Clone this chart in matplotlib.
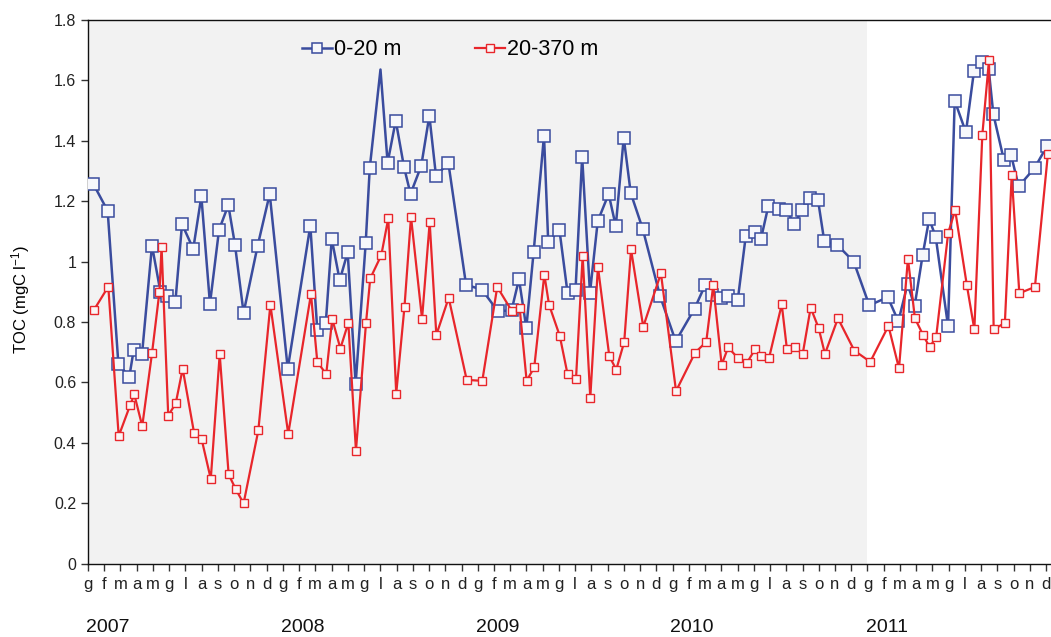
import matplotlib
matplotlib.use("Agg")
import matplotlib.pyplot as plt

plt.rcParams['font.family'] = ['Liberation Sans', 'DejaVu Sans']
plt.rcParams['mathtext.fontset'] = 'custom'
plt.rcParams['mathtext.rm'] = 'Liberation Sans'
plt.rcParams['mathtext.it'] = 'Liberation Sans'

# Sampling dates, in months since January 2007
t_surface = [0.33, 1.21, 1.87, 2.54, 2.81, 3.33, 3.94, 4.46, 4.88, 5.38, 5.79, 6.48,
             6.98, 7.51, 8.07, 8.64, 9.05, 9.58, 10.45, 11.19, 12.30, 13.69, 14.12,
             14.64, 15.01, 15.50, 15.99, 16.48, 17.10, 17.35, 18.01, 18.45, 18.95,
             19.46, 19.86, 20.52, 21.02, 21.43, 22.19, 23.28, 24.26, 25.23, 26.08,
             26.54, 26.99, 27.44, 28.08, 28.34, 29.03, 29.53, 30.02, 30.43, 30.91,
             31.39, 32.06, 32.50, 32.99, 33.42, 34.16, 35.23, 36.19, 37.35, 38.01,
             38.42, 38.96, 39.40, 40.01, 40.50, 41.05, 41.44, 41.89, 42.57, 43.00,
             43.49, 43.97, 44.46, 44.95, 45.34, 46.12, 47.15, 48.11, 49.25, 49.90,
             50.47, 50.90, 51.40, 51.80, 52.20, 52.96, 53.37, 54.06, 54.56, 55.03,
             55.46, 55.75, 56.40, 56.84, 57.31, 58.29, 59.07]
toc_surface = [1.257, 1.168, 0.662, 0.617, 0.706, 0.695, 1.053, 0.900, 0.885, 0.866,
               1.124, 1.042, 1.216, 0.860, 1.105, 1.187, 1.056, 0.830, 1.053, 1.224,
               0.645, 1.119, 0.773, 0.795, 1.075, 0.938, 1.031, 0.595, 1.061, 1.310,
               1.636, 1.327, 1.467, 1.313, 1.224, 1.317, 1.483, 1.283, 1.327, 0.923,
               0.907, 0.836, 0.838, 0.942, 0.780, 1.031, 1.417, 1.064, 1.105, 0.896,
               0.905, 1.347, 0.896, 1.134, 1.224, 1.117, 1.410, 1.227, 1.108, 0.885,
               0.736, 0.844, 0.923, 0.888, 0.880, 0.885, 0.872, 1.083, 1.098, 1.075,
               1.183, 1.175, 1.171, 1.124, 1.171, 1.209, 1.205, 1.067, 1.056, 1.000,
               0.855, 0.882, 0.802, 0.926, 0.852, 1.023, 1.141, 1.082, 0.786, 1.533,
               1.428, 1.632, 1.660, 1.639, 1.488, 1.336, 1.353, 1.249, 1.310, 1.384]

t_deep = [0.37, 1.25, 1.89, 2.60, 2.85, 3.34, 3.94, 4.40, 4.53, 4.94, 5.40, 5.83,
          6.53, 7.00, 7.56, 8.11, 8.66, 9.09, 9.58, 10.49, 11.23, 12.33, 13.73, 14.12,
          14.67, 15.04, 15.54, 16.03, 16.50, 17.12, 17.38, 18.06, 18.49, 18.98, 19.49,
          19.89, 20.57, 21.04, 21.45, 22.21, 23.32, 24.28, 25.20, 26.09, 26.58, 27.01,
          27.48, 28.10, 28.39, 29.05, 29.53, 30.05, 30.46, 30.93, 31.40, 32.10, 32.53,
          33.02, 33.44, 34.19, 35.28, 36.21, 37.38, 38.07, 38.50, 39.02, 39.42, 40.04,
          40.56, 41.07, 41.44, 41.93, 42.72, 43.04, 43.53, 44.01, 44.50, 44.99, 45.38,
          46.18, 47.19, 48.17, 49.29, 49.94, 50.49, 50.92, 51.43, 51.83, 52.23, 52.97,
          53.40, 54.12, 54.58, 55.07, 55.48, 55.77, 56.46, 56.88, 57.35, 58.31, 59.11]
toc_deep = [0.840, 0.917, 0.422, 0.525, 0.560, 0.455, 0.696, 0.900, 1.049, 0.490,
            0.530, 0.645, 0.433, 0.411, 0.280, 0.693, 0.295, 0.247, 0.199, 0.441,
            0.857, 0.429, 0.892, 0.668, 0.627, 0.810, 0.712, 0.797, 0.374, 0.797,
            0.944, 1.021, 1.143, 0.563, 0.851, 1.148, 0.810, 1.130, 0.757, 0.880,
            0.608, 0.605, 0.916, 0.837, 0.847, 0.605, 0.650, 0.957, 0.857, 0.754,
            0.627, 0.611, 1.018, 0.549, 0.983, 0.687, 0.642, 0.734, 1.040, 0.784,
            0.961, 0.571, 0.698, 0.734, 0.921, 0.658, 0.716, 0.679, 0.663, 0.709,
            0.688, 0.679, 0.858, 0.709, 0.716, 0.694, 0.847, 0.780, 0.694, 0.812,
            0.705, 0.668, 0.787, 0.646, 1.010, 0.812, 0.756, 0.716, 0.751, 1.095,
            1.170, 0.921, 0.775, 1.419, 1.666, 0.775, 0.797, 1.286, 0.895, 0.916,
            1.357]

month_letters = ['g', 'f', 'm', 'a', 'm', 'g', 'l', 'a', 's', 'o', 'n', 'd']
years = ['2007', '2008', '2009', '2010', '2011']
series_labels = ['0-20 m', '20-370 m']

BLUE = '#3a4c9e'
RED = '#e8262b'

fig = plt.figure(figsize=(10.51, 6.37), dpi=100)
ax = fig.add_axes([88 / 1051, 1 - 563.5 / 637, 963 / 1051, 543.5 / 637])

n_months = 12 * len(years)
ax.set_xlim(0, 59.3)
ax.set_ylim(0, 1.8)

# shaded period (2007-2010)
ax.axvspan(0, 48, color='#f2f2f2', zorder=0, lw=0)

# surface layer: peak sample drawn without a marker
peak = toc_surface.index(max(toc_surface[:40]))
marks = [i for i in range(len(t_surface)) if i != peak]
ax.plot(t_surface, toc_surface, color=BLUE, lw=1.8, marker='s', ms=8,
        mfc='#f6f7fb', mec=BLUE, mew=1.1, markevery=marks, label=series_labels[0],
        zorder=3)
ax.plot(t_deep, toc_deep, color=RED, lw=1.6, marker='s', ms=6,
        mfc='#fbf5f5', mec=RED, mew=1.0, label=series_labels[1], zorder=4)

ax.set_yticks([0, 0.2, 0.4, 0.6, 0.8, 1.0, 1.2, 1.4, 1.6, 1.8])
ax.set_yticklabels(['0', '0.2', '0.4', '0.6', '0.8', '1', '1.2', '1.4', '1.6', '1.8'],
                   fontsize=11.5, color='#222222')
ax.set_xticks(range(n_months))
ax.set_xticklabels(month_letters * len(years), fontsize=12, color='#222222')
ax.tick_params(axis='both', direction='out', length=5, width=1, color='#333333')
ax.tick_params(axis='x', pad=5)

ax.spines['right'].set_visible(False)
for side in ['left', 'bottom', 'top']:
    ax.spines[side].set_color('#111111')
    ax.spines[side].set_linewidth(1.0)

ax.set_ylabel(r'TOC (mgC l$^{\mathrm{-1}}$)', fontsize=12)
ax.yaxis.set_label_coords(-0.058, 0.485)

for k, yr in enumerate(years):
    ax.text(12 * k + 1.2, -0.1255, yr, transform=ax.get_xaxis_transform(),
            ha='center', va='baseline', fontsize=14, color='#111111')

leg = ax.legend(loc='center', bbox_to_anchor=(0.376, 0.945), ncol=2, frameon=False,
                fontsize=15.5, handlelength=1.4, handletextpad=0.1, columnspacing=3.4,
                markerscale=0.85)

fig.savefig('out.png', dpi=100)
